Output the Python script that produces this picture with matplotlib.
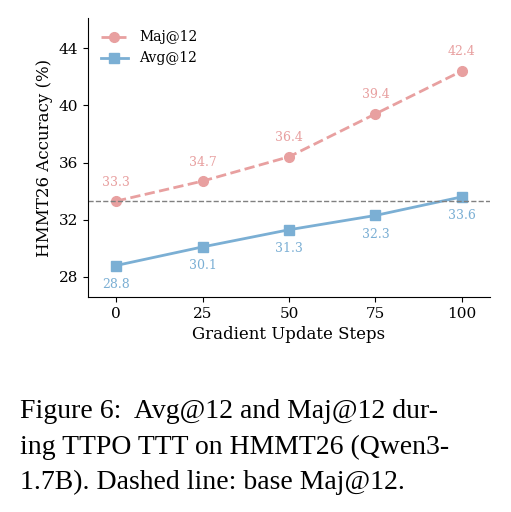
import matplotlib
matplotlib.use("Agg")
import matplotlib.pyplot as plt

steps = [0, 25, 50, 75, 100]
maj = [33.3, 34.7, 36.4, 39.4, 42.4]
avg = [28.8, 30.1, 31.3, 32.3, 33.6]
base = 33.3
yticks = [28, 32, 36, 40, 44]
xticks = [0, 25, 50, 75, 100]

plt.rcParams['font.family'] = 'DejaVu Serif'
fig = plt.figure(figsize=(5.11, 5.12), dpi=100)
ax = fig.add_axes([88/511, 1-297/512, (490-88)/511, (297-18)/512])
pink = '#E8A0A0'; blue = '#7BAFD4'
ax.plot(steps, maj, '--o', color=pink, lw=2, ms=7, label='Maj@12')
ax.plot(steps, avg, '-s', color=blue, lw=2, ms=7, label='Avg@12')
ax.axhline(base, color='gray', ls='--', lw=1)
for x, y in zip(steps, maj):
    ax.annotate(f'{y}', (x, y), xytext=(0, 9), textcoords='offset points', ha='center', va='bottom', color=pink, fontsize=9)
for x, y in zip(steps, avg):
    ax.annotate(f'{y}', (x, y), xytext=(0, -9), textcoords='offset points', ha='center', va='top', color=blue, fontsize=9)
ax.set_xlim(-8.1, 108.1)
ax.set_ylim(26.6, 46.1)
ax.set_xticks(xticks); ax.set_yticks(yticks)
ax.tick_params(labelsize=11)
ax.set_xlabel('Gradient Update Steps', fontsize=12)
ax.set_ylabel('HMMT26 Accuracy (%)', fontsize=12)
for s in ['top', 'right']:
    ax.spines[s].set_visible(False)
ax.legend(loc='upper left', frameon=False, fontsize=10)

cap = ['Figure 6:  Avg@12 and Maj@12 dur-',
       'ing TTPO TTT on HMMT26 (Qwen3-',
       '1.7B). Dashed line: base Maj@12.']
for i, line in enumerate(cap):
    fig.text(20/511, 1-(412+i*35)/512, line, family='Liberation Serif', fontsize=20, va='center', ha='left')
fig.savefig('out.png', dpi=100)
